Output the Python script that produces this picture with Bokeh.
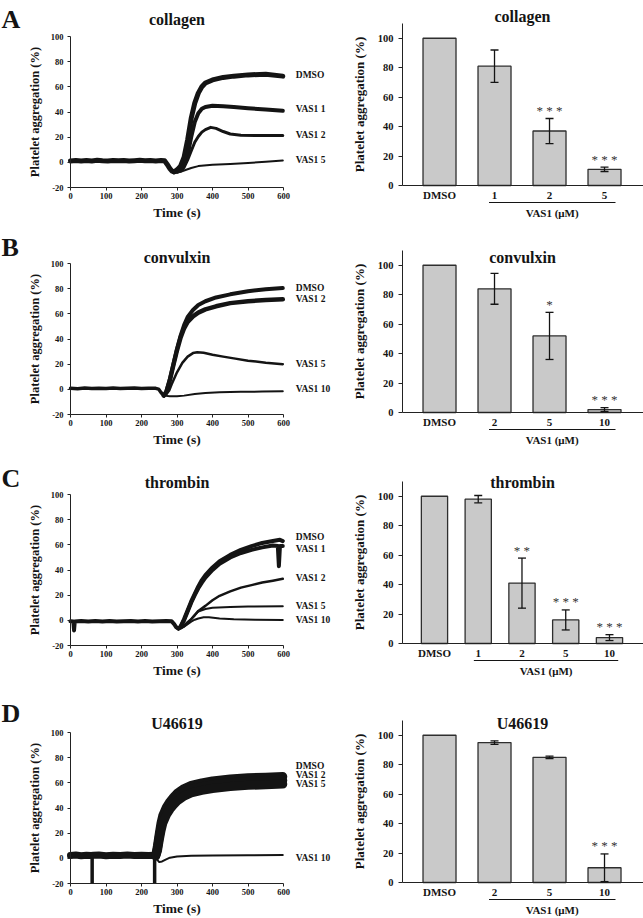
from bokeh.plotting import figure
from bokeh.models import (Label, LabelSet, ColumnDataSource, FixedTicker, Whisker,
                          TeeHead, Arrow, Range1d)
from bokeh.layouts import column, row
from bokeh.embed import file_html
from bokeh.resources import INLINE

# ======================= DATA =======================
time_ticks = [0, 100, 200, 300, 400, 500, 600]
trace_y_ticks = [-20, 0, 20, 40, 60, 80, 100]
bar_y_ticks = [0, 20, 40, 60, 80, 100]
dose_axis_text = "VAS1 (\u03bcM)"

# ---- A: collagen traces ----
collagen_base_t = [0, 15, 30, 45, 60, 75, 90, 105, 120, 135, 150, 165, 180, 195, 210, 225, 240, 255, 265, 272, 280, 286, 292]
collagen_base_y = [1.0, 1.5, 1.0, 1.4, 1.1, 1.6, 1.2, 1.0, 1.5, 1.2, 1.4, 1.0, 1.3, 1.6, 1.2, 1.4, 1.1, 1.5, 1.2, -1.5, -5.0, -7.0, -7.5]
collagen_dmso_t = [292, 300, 310, 320, 330, 340, 350, 360, 370, 380, 400, 430, 460, 500, 550, 598]
collagen_dmso_y = [-7.5, -6, -3, 4, 18, 35, 47, 55, 60, 63, 65.5, 67.5, 68.5, 69.5, 70, 68.5]
collagen_v1_t = [292, 300, 310, 320, 330, 340, 350, 360, 370, 380, 400, 430, 460, 500, 550, 598]
collagen_v1_y = [-7.5, -7, -6, -2, 6, 20, 32, 39, 42.5, 44, 45, 44.5, 44, 43, 42, 41]
collagen_v2_t = [292, 300, 310, 320, 330, 340, 350, 360, 370, 380, 395, 410, 430, 450, 480, 520, 598]
collagen_v2_y = [-7.5, -8, -7, -4, 2, 9, 16, 20.5, 24, 26, 27.8, 27, 24.5, 22.5, 21.6, 21.3, 21.3]
collagen_v5_t = [292, 300, 310, 320, 340, 360, 400, 450, 500, 550, 598]
collagen_v5_y = [-7.5, -8, -7.5, -6.5, -4.5, -3, -2, -1.3, -0.5, 0.5, 1.5]

# ---- B: convulxin traces ----
convulxin_base_t = [0, 20, 40, 60, 80, 100, 120, 140, 160, 180, 200, 220, 240, 248, 255, 263]
convulxin_base_y = [0.8, 0.5, 1.0, 0.6, 0.9, 0.7, 1.0, 0.6, 0.8, 1.0, 0.7, 0.9, 0.8, 0.2, -2.5, -5.0]
convulxin_dmso_t = [263, 270, 280, 290, 300, 310, 320, 330, 345, 360, 380, 410, 450, 500, 550, 598]
convulxin_dmso_y = [-5, -2, 8, 20, 32, 42.5, 51, 57.5, 63, 67, 70, 73, 75.5, 78, 79.5, 80.5]
convulxin_v2_t = [263, 270, 280, 290, 300, 310, 320, 330, 345, 360, 380, 410, 450, 500, 550, 598]
convulxin_v2_y = [-5, -2, 7.5, 19.5, 31, 41, 48.5, 53.5, 58, 61, 63.5, 66, 68.5, 70, 71, 71.5]
convulxin_v5_t = [263, 270, 278, 285, 300, 315, 330, 345, 357, 375, 400, 430, 460, 500, 550, 598]
convulxin_v5_y = [-5, -4, -1, 4, 13.5, 21, 26, 28.8, 29.4, 29, 27.5, 26, 24.6, 22.8, 21.2, 20]
convulxin_v10_t = [263, 280, 300, 320, 350, 380, 420, 480, 540, 598]
convulxin_v10_y = [-5, -5.5, -5.5, -5, -3.8, -3, -2.4, -2, -1.8, -1.6]

# ---- C: thrombin traces ----
thrombin_base_t = [0, 8, 10, 12, 30, 50, 70, 90, 110, 130, 150, 170, 190, 210, 230, 250, 270, 285, 292, 298, 304]
thrombin_base_y = [-0.8, -1.0, -8.0, -1.0, -0.6, -1.0, -0.5, -0.9, -0.6, -1.0, -0.7, -0.5, -0.9, -0.6, -1.0, -0.7, -0.5, -0.8, -3.0, -5.5, -6.5]
thrombin_dmso_t = [304, 310, 320, 330, 340, 350, 360, 370, 380, 400, 420, 450, 480, 510, 540, 570, 590, 598]
thrombin_dmso_y = [-6.5, -5, 1, 8, 15, 21, 27, 32, 36, 42, 47, 52, 56, 59, 61.5, 63, 64, 63]
thrombin_v1_t = [304, 310, 320, 330, 340, 350, 360, 370, 380, 400, 420, 450, 480, 510, 540, 570, 584, 587, 590, 598]
thrombin_v1_y = [-6.5, -5, 0, 7, 14, 20, 25.5, 30, 34, 40, 45, 50, 53.5, 56, 58, 59.5, 59, 43, 59, 59]
thrombin_v2_t = [304, 310, 320, 330, 340, 350, 360, 380, 400, 420, 450, 480, 510, 540, 570, 598]
thrombin_v2_y = [-6.5, -6, -4, -1.5, 1, 4, 7.5, 11.5, 16, 19.5, 23, 26, 28, 30, 31.5, 33]
thrombin_v5_t = [304, 310, 320, 330, 340, 350, 360, 380, 400, 450, 500, 598]
thrombin_v5_y = [-6.5, -6.5, -5, -2.5, 1, 4.5, 7, 9, 10, 10.5, 11, 11.2]
thrombin_v10_t = [304, 310, 320, 330, 340, 350, 360, 375, 390, 420, 460, 520, 598]
thrombin_v10_y = [-6.5, -6.5, -5, -3, -1, 0.5, 1.5, 2.5, 2.5, 1.5, 0.8, 0.4, 0.3]

# ---- D: U46619 traces ----
u46619_base_t = [0, 15, 30, 45, 58, 64, 80, 100, 120, 140, 160, 180, 200, 220, 235, 240]
u46619_base_y = [2.2, 2.6, 2.0, 2.5, 2.3, 2.4, 2.6, 2.1, 2.5, 2.3, 2.6, 2.2, 2.5, 2.3, 2.4, 2.0]
u46619_spike_t = [61, 237]
u46619_spike_top = [2.4, 2.4]
u46619_spike_low = [-20, -20]
u46619_dmso_t = [240, 245, 250, 255, 260, 270, 280, 290, 300, 320, 340, 370, 400, 450, 500, 550, 598]
u46619_dmso_y = [2, 10, 19.5, 28, 34, 40.5, 45, 48.5, 51.5, 55.5, 58, 60, 61.5, 63, 64, 64.5, 65]
u46619_v2_t = [240, 245, 250, 255, 260, 270, 280, 290, 300, 320, 340, 370, 400, 450, 500, 550, 598]
u46619_v2_y = [2, 8, 17, 25, 31, 37.5, 42, 45.5, 48.5, 52.5, 55, 57, 58.5, 60, 61, 61.5, 62]
u46619_v5_t = [240, 245, 250, 255, 260, 270, 280, 290, 300, 320, 340, 370, 400, 450, 500, 550, 598]
u46619_v5_y = [2, 6, 14.5, 22, 28, 34.5, 39, 42.5, 45.5, 49.5, 52, 54, 55.5, 57, 58, 58.5, 59]
u46619_v10_t = [240, 244, 250, 258, 268, 280, 300, 340, 400, 500, 598]
u46619_v10_y = [2, -1, -3, -2.5, -1, 0.5, 1.5, 2, 2.3, 2.5, 2.6]

# ---- bar charts (mean +/- SEM, % of DMSO) ----
collagen_doses = ["DMSO", "1", "2", "5"]
collagen_mean = [100, 81, 37, 11]
collagen_sem = [0, 11, 8.5, 1.5]
collagen_sig = ["", "", "***", "***"]

convulxin_doses = ["DMSO", "2", "5", "10"]
convulxin_mean = [100, 84, 52, 2]
convulxin_sem = [0, 10.5, 16, 1.3]
convulxin_sig = ["", "", "*", "***"]

thrombin_doses = ["DMSO", "1", "2", "5", "10"]
thrombin_mean = [100, 98, 41, 16, 4]
thrombin_sem = [0, 2.5, 17, 6.8, 2]
thrombin_sig = ["", "", "**", "***", "***"]

u46619_doses = ["DMSO", "2", "5", "10"]
u46619_mean = [100, 95, 85, 10]
u46619_sem = [0, 1.2, 0.8, 9.4]
u46619_sig = ["", "", "", "***"]

panels = [
    dict(letter="A", agonist="collagen",
         base=(collagen_base_t, collagen_base_y), spikes=None,
         traces=[("DMSO", collagen_dmso_t, collagen_dmso_y),
                 ("VAS1 1", collagen_v1_t, collagen_v1_y),
                 ("VAS1 2", collagen_v2_t, collagen_v2_y),
                 ("VAS1 5", collagen_v5_t, collagen_v5_y)],
         doses=collagen_doses, mean=collagen_mean, sem=collagen_sem, sig=collagen_sig),
    dict(letter="B", agonist="convulxin",
         base=(convulxin_base_t, convulxin_base_y), spikes=None,
         traces=[("DMSO", convulxin_dmso_t, convulxin_dmso_y),
                 ("VAS1 2", convulxin_v2_t, convulxin_v2_y),
                 ("VAS1 5", convulxin_v5_t, convulxin_v5_y),
                 ("VAS1 10", convulxin_v10_t, convulxin_v10_y)],
         doses=convulxin_doses, mean=convulxin_mean, sem=convulxin_sem, sig=convulxin_sig),
    dict(letter="C", agonist="thrombin",
         base=(thrombin_base_t, thrombin_base_y), spikes=None,
         traces=[("DMSO", thrombin_dmso_t, thrombin_dmso_y),
                 ("VAS1 1", thrombin_v1_t, thrombin_v1_y),
                 ("VAS1 2", thrombin_v2_t, thrombin_v2_y),
                 ("VAS1 5", thrombin_v5_t, thrombin_v5_y),
                 ("VAS1 10", thrombin_v10_t, thrombin_v10_y)],
         doses=thrombin_doses, mean=thrombin_mean, sem=thrombin_sem, sig=thrombin_sig),
    dict(letter="D", agonist="U46619",
         base=(u46619_base_t, u46619_base_y),
         spikes=(u46619_spike_t, u46619_spike_top, u46619_spike_low),
         traces=[("DMSO", u46619_dmso_t, u46619_dmso_y),
                 ("VAS1 2", u46619_v2_t, u46619_v2_y),
                 ("VAS1 5", u46619_v5_t, u46619_v5_y),
                 ("VAS1 10", u46619_v10_t, u46619_v10_y)],
         doses=u46619_doses, mean=u46619_mean, sem=u46619_sem, sig=u46619_sig),
]

# ======================= STYLE / LAYOUT (pixel geometry) =======================
SERIF = "Liberation Serif"
SANS = "Liberation Sans"
INK = "#141414"
AXIS = "#222222"
BAR_FILL = "#c9c9c9"
BAR_LINE = "#2e2e2e"

LEFT_W, RIGHT_W = 335, 308
TR_X0_PX, TR_X1_PX = 70, 283          # trace plot area (canvas px)
BAR_X0_PX = 67                        # bar plot y-axis (canvas px in right figure)

# per row: page top, height, trace frame top/bottom, bar frame top/zero, text baselines
geom = [
    dict(top=0,   h=222, l_top=36,  l_bot=187, r_top=23,  r_zero=185, letter=19,  l_title=19,  r_title=16),
    dict(top=222, h=231, l_top=263, l_bot=414, r_top=250, r_zero=412, letter=247, l_title=257, r_title=257),
    dict(top=453, h=233, l_top=494, l_bot=645, r_top=481, r_zero=643, letter=478, l_title=482, r_title=482),
    dict(top=686, h=230, l_top=732, l_bot=883, r_top=720, r_zero=882, letter=713, l_title=723, r_title=723),
]
bar_x_start = [-0.673, -0.673, -0.731, -0.673]
bar_px_per_cat = [55, 55, 43.75, 55]

base_width = [5, 3.5, 4, 7]
trace_widths = [[5, 4, 3, 2], [4, 4.5, 2.5, 2], [4, 4, 2.5, 2, 2], [9, 9, 9, 2]]
label_nudge = [[1, 2, 1, 0], [0, 0, 0, 2], [4, -3, 1, 0, 0], [11, 5, 0, -3]]


def style_axes(p, tick_size, label_size_y, label_size_x=None):
    p.outline_line_color = None
    p.grid.visible = False
    p.background_fill_color = "white"
    p.border_fill_color = "white"
    for ax in p.axis:
        ax.axis_line_color = AXIS
        ax.axis_line_width = 1
        ax.major_tick_line_color = AXIS
        ax.major_tick_in = 0
        ax.minor_tick_line_color = None
        ax.major_label_text_font = SERIF
        ax.major_label_text_font_style = "bold"
        ax.major_label_text_font_size = tick_size
        ax.major_label_text_color = INK
        ax.axis_label_text_font = SERIF
        ax.axis_label_text_font_style = "bold"
        ax.axis_label_text_color = INK
    p.yaxis.axis_label_text_font_size = label_size_y
    if label_size_x:
        p.xaxis.axis_label_text_font_size = label_size_x


def label(x, y, text, size, align="left", baseline="middle", dx=0, dy=0, font=SERIF, bold=True, color=INK):
    return Label(x=x, y=y, x_offset=dx, y_offset=dy, text=text, text_font=font,
                 text_font_style="bold" if bold else "normal", text_font_size=size,
                 text_color=color, text_align=align, text_baseline=baseline)


def trace_fig(i, pan):
    g = geom[i]
    H = g["h"]
    ptop, pbot = g["l_top"] - g["top"], g["l_bot"] - g["top"]
    kx = (TR_X1_PX - TR_X0_PX) / 600.0
    ky = (pbot - ptop) / 120.0
    xr = Range1d(-TR_X0_PX / kx, (LEFT_W - TR_X0_PX) / kx)
    yr = Range1d(-20 - (H - pbot) / ky, 100 + ptop / ky)
    p = figure(width=LEFT_W, height=H, x_range=xr, y_range=yr,
               output_backend="svg", toolbar_location=None,
               min_border=0, min_border_left=0, min_border_right=0,
               min_border_top=0, min_border_bottom=0)
    style_axes(p, "8.5px", "12.5px", "13.5px")
    p.xaxis.fixed_location = -20
    p.xaxis.bounds = (0, 600)
    p.yaxis.fixed_location = 0
    p.yaxis.bounds = (-20, 100)
    p.xaxis.ticker = FixedTicker(ticks=time_ticks)
    p.yaxis.ticker = FixedTicker(ticks=trace_y_ticks)
    p.yaxis.major_label_overrides = {t: str(t) for t in trace_y_ticks}
    p.xaxis.major_tick_out = 3
    p.yaxis.major_tick_out = 3
    p.xaxis.major_label_standoff = 2
    p.yaxis.major_label_standoff = 4
    p.xaxis.axis_label_standoff = 3
    p.yaxis.axis_label_standoff = 6
    p.xaxis.axis_label = "Time (s)"
    p.yaxis.axis_label = "Platelet aggregation (%)"

    bt, by = pan["base"]
    p.line(bt, by, line_width=base_width[i], line_color=INK, line_join="round", line_cap="round")
    if pan["spikes"]:
        st, s_top, s_low = pan["spikes"]
        p.segment(x0=st, y0=s_top, x1=st, y1=s_low, line_width=3.5, line_color=INK)
    for k, (name, t, y) in enumerate(pan["traces"]):
        p.line(t, y, line_width=trace_widths[i][k], line_color=INK, line_join="round", line_cap="round")
        p.add_layout(label(t[-1], y[-1], name, "9.5px", dx=13, dy=label_nudge[i][k]))
    p.add_layout(label(300, 100, pan["agonist"], "16px", align="center", baseline="alphabetic",
                       dy=g["l_top"] - g["l_title"]))
    p.add_layout(label(xr.start, 100, pan["letter"], "26px", baseline="alphabetic",
                       dx=1, dy=g["l_top"] - g["letter"]))
    return p


def bar_fig(i, pan):
    g = geom[i]
    H = g["h"]
    ptop, pzero = g["r_top"] - g["top"], g["r_zero"] - g["top"]
    n = len(pan["doses"])
    kx = bar_px_per_cat[i]
    x0 = bar_x_start[i]
    ky = (pzero - ptop) / 110.0
    xr = Range1d(x0 - BAR_X0_PX / kx, x0 + (RIGHT_W - BAR_X0_PX) / kx)
    yr = Range1d(0 - (H - pzero) / ky, 110 + ptop / ky)
    p = figure(width=RIGHT_W, height=H, x_range=xr, y_range=yr,
               output_backend="svg", toolbar_location=None,
               min_border=0, min_border_left=0, min_border_right=0,
               min_border_top=0, min_border_bottom=0)
    style_axes(p, "10.5px", "13px")
    p.xaxis.fixed_location = 0
    p.xaxis.bounds = (x0, xr.end)
    p.yaxis.fixed_location = x0
    p.yaxis.bounds = (0, 110)
    p.xaxis.major_label_text_font_size = "11px"
    p.xaxis.ticker = FixedTicker(ticks=list(range(n)))
    p.xaxis.major_label_overrides = {k: d for k, d in enumerate(pan["doses"])}
    p.xaxis.major_tick_out = 0
    p.xaxis.major_label_standoff = 3
    p.yaxis.ticker = FixedTicker(ticks=bar_y_ticks)
    p.yaxis.major_tick_out = 4
    p.yaxis.major_label_standoff = 5
    p.yaxis.axis_label_standoff = 8
    p.yaxis.axis_label = "Platelet aggregation (%)"

    xs = list(range(n))
    src = ColumnDataSource(dict(x=xs, mean=pan["mean"]))
    p.vbar(x="x", top="mean", bottom=0, width=0.6, source=src,
           fill_color=BAR_FILL, line_color=BAR_LINE, line_width=1.3)

    ex = [x for x, s in zip(xs, pan["sem"]) if s > 0]
    eu = [m + s for m, s in zip(pan["mean"], pan["sem"]) if s > 0]
    el = [m - s for m, s in zip(pan["mean"], pan["sem"]) if s > 0]
    esrc = ColumnDataSource(dict(x=ex, upper=eu, lower=el))
    p.add_layout(Whisker(source=esrc, base="x", upper="upper", lower="lower", dimension="height",
                         level="overlay", line_color=INK, line_width=1.3,
                         upper_head=TeeHead(size=8, line_color=INK, line_width=1.3),
                         lower_head=TeeHead(size=8, line_color=INK, line_width=1.3)))

    sx = [x for x, s in zip(xs, pan["sig"]) if s]
    sy = [m + e for m, e, s in zip(pan["mean"], pan["sem"], pan["sig"]) if s]
    st = [" ".join(s) for s in pan["sig"] if s]
    ssrc = ColumnDataSource(dict(x=sx, y=sy, t=st))
    p.add_layout(LabelSet(x="x", y="y", text="t", source=ssrc, y_offset=8,
                          text_font=SANS, text_font_size="13px", text_color="#333333",
                          text_align="center", text_baseline="middle"))

    y_line = -17 / ky
    u0, u1 = 0.9, n - 1 + 0.2
    p.add_layout(Arrow(start=None, end=None, x_start=u0, y_start=y_line, x_end=u1, y_end=y_line,
                       line_color=INK, line_width=1))
    p.add_layout(label((u0 + u1) / 2, 0, dose_axis_text, "11px", align="center", dy=-27))

    tx = x0 + 120 / kx
    p.add_layout(label(tx, 110, pan["agonist"], "16px", align="center", baseline="alphabetic",
                       dy=g["r_top"] - g["r_title"]))
    return p


rows = []
for i, pan in enumerate(panels):
    rows.append(row(trace_fig(i, pan), bar_fig(i, pan)))
layout = column(*rows)

open("out.html", "w").write(file_html(layout, INLINE))
